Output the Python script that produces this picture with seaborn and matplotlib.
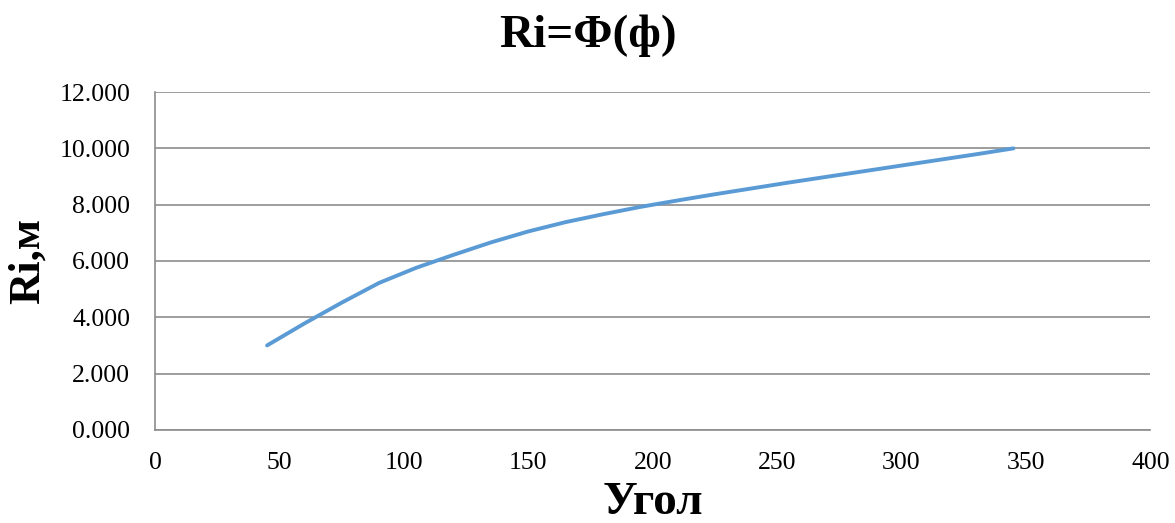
import matplotlib
matplotlib.use("Agg")
import matplotlib.pyplot as plt
import seaborn as sns
import pandas as pd
from matplotlib.ticker import FormatStrFormatter

# Angle (degrees) and radius Ri (m)
angle = [45, 60, 75, 90, 105, 120, 135, 150, 165, 180, 195,
         210, 225, 240, 255, 270, 285, 300, 315, 330, 345]
radius = [3.00, 3.78, 4.52, 5.22, 5.76, 6.22, 6.66, 7.05, 7.38, 7.66, 7.92,
          8.15, 8.37, 8.58, 8.79, 8.99, 9.19, 9.39, 9.59, 9.79, 10.00]

x_ticks = [0, 50, 100, 150, 200, 250, 300, 350, 400]
y_ticks = [0, 2, 4, 6, 8, 10, 12]

df = pd.DataFrame({"angle": angle, "radius": radius})

sns.set_style("white")
plt.rcParams["font.family"] = ["Liberation Serif", "DejaVu Serif"]
plt.rcParams["text.color"] = "black"
plt.rcParams["axes.labelcolor"] = "black"

fig = plt.figure(figsize=(11.75, 5.23), dpi=100)
ax = fig.add_axes([0.132, 0.178, 0.847, 0.646])

sns.lineplot(data=df, x="angle", y="radius", ax=ax, color="#5B9BD5",
             linewidth=2.8, sort=False)

ax.set_xlim(0, 400)
ax.set_ylim(0, 12)
ax.set_xticks(x_ticks)
ax.set_yticks(y_ticks)
ax.yaxis.set_major_formatter(FormatStrFormatter("%.3f"))
ax.tick_params(axis="both", length=0, labelsize=18.5, colors="black")
ax.tick_params(axis="y", pad=18)
ax.tick_params(axis="x", pad=16)

ax.grid(axis="y", color="#8c8c8c", linewidth=1.2)
ax.grid(axis="x", visible=False)
ax.set_axisbelow(True)
for side in ("top", "right"):
    ax.spines[side].set_visible(False)
for side in ("left", "bottom"):
    ax.spines[side].set_color("#8c8c8c")
    ax.spines[side].set_linewidth(1.2)

ax.set_xlabel("Угол", fontsize=34, fontweight="bold", labelpad=6)
ax.set_ylabel("Ri,м", fontsize=32, fontweight="bold", labelpad=8)
fig.suptitle("Ri=Φ(ф)", fontsize=34, fontweight="bold", y=0.972)

fig.savefig("out.png", dpi=100)
